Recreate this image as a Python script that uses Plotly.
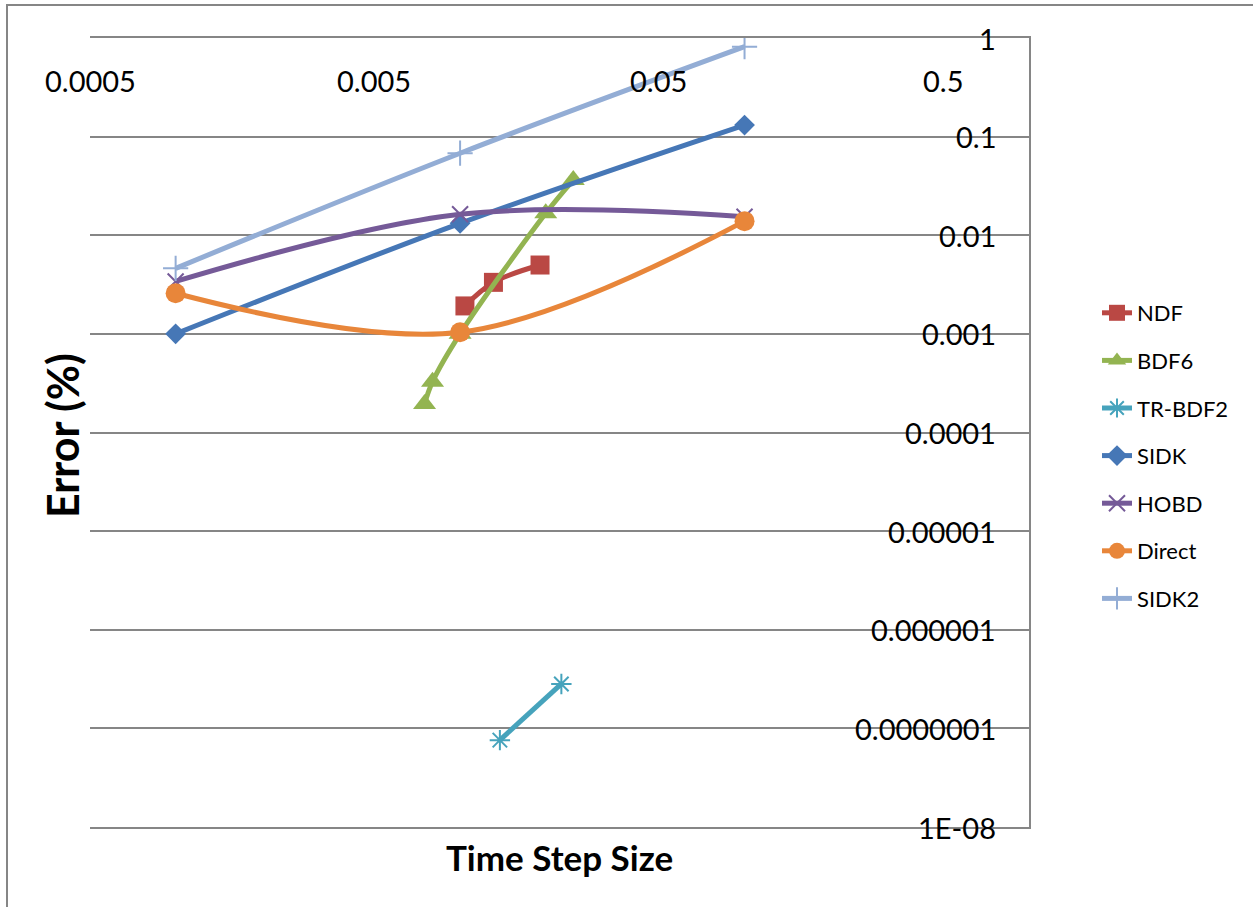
import math
import plotly.graph_objects as go

# Time step sizes and errors (%) for each solver
x_ndf = [0.0104, 0.0131, 0.0191]
y_ndf = [0.00192, 0.00333, 0.00499]

x_bdf6 = [0.0075, 0.008, 0.01, 0.02, 0.025]
y_bdf6 = [0.000195, 0.000327, 0.001, 0.0167, 0.0363]

x_trbdf2 = [0.0138, 0.0227]
y_trbdf2 = [7.6e-8, 2.82e-7]

x_sidk = [0.001, 0.01, 0.1]
y_sidk = [0.001, 0.0132, 0.131]

x_hobd = [0.001, 0.01, 0.1]
y_hobd = [0.0034, 0.0163, 0.0154]

x_direct = [0.001, 0.01, 0.1]
y_direct = [0.00258, 0.00104, 0.0139]

x_sidk2 = [0.001, 0.01, 0.1]
y_sidk2 = [0.00462, 0.0679, 0.816]

x_tickvals = [0.0005, 0.005, 0.05, 0.5]
x_ticktext = ["0.0005", "0.005", "0.05", "0.5"]
y_tickvals = [1, 0.1, 0.01, 0.001, 0.0001, 0.00001, 0.000001, 0.0000001, 0.00000001]
y_ticktext = ["1", "0.1", "0.01", "0.001", "0.0001", "0.00001", "0.000001", "0.0000001", "1E-08"]

FONT = "Lato"
GRID = "#868686"

# plot area in pixels
L, R, T, B = 90, 1029, 38, 827
W, H = R - L, B - T

series = [
    ("NDF", x_ndf, y_ndf, "#BA4844", "square", 19, 0),
    ("BDF6", x_bdf6, y_bdf6, "#93B451", "triangle-up", 20, 0),
    ("TR-BDF2", x_trbdf2, y_trbdf2, "#46A3BC", "asterisk-open", 17, 2),
    ("SIDK", x_sidk, y_sidk, "#4677B6", "diamond", 16, 0),
    ("HOBD", x_hobd, y_hobd, "#755A98", "x-thin-open", 16, 2),
    ("Direct", x_direct, y_direct, "#E8863A", "circle", 20, 0),
    ("SIDK2", x_sidk2, y_sidk2, "#93ADD5", "cross-thin-open", 18, 2),
]

fig = go.Figure()
for name, xs, ys, color, symbol, size, lw in series:
    fig.add_trace(go.Scatter(
        x=xs, y=ys, name=name, legendgroup=name,
        mode="lines+markers",
        line=dict(color=color, width=5, shape="spline", smoothing=1.0),
        marker=dict(symbol=symbol, size=size, color=color,
                    line=dict(width=lw, color=color)),
    ))

annotations = []
# horizontal-axis labels sit just below the top edge
for v, t in zip(x_tickvals, x_ticktext):
    annotations.append(dict(
        text=t, xref="x", yref="paper", x=math.log10(v), y=(B - 80) / H,
        showarrow=False, xanchor="center", yanchor="middle",
        font=dict(family=FONT, size=29, color="black")))
# vertical-axis labels right-aligned inside the right edge
for v, t in zip(y_tickvals, y_ticktext):
    annotations.append(dict(
        text=t, xref="paper", yref="y", x=(998 - L) / W, y=math.log10(v),
        showarrow=False, xanchor="right", yanchor="middle",
        font=dict(family=FONT, size=29, color="black")))
annotations += [
    dict(text="<b>Time Step Size</b>", xref="paper", yref="paper",
         x=0.5, y=(B - 857) / H, showarrow=False,
         xanchor="center", yanchor="middle",
         font=dict(family=FONT, size=35, color="black")),
    dict(text="<b>Error (%)</b>", xref="paper", yref="paper",
         x=(63 - L) / W, y=(B - 436) / H, showarrow=False, textangle=-90,
         xanchor="center", yanchor="middle",
         font=dict(family=FONT, size=43, color="black")),
]

fig.update_layout(
    width=1253, height=907,
    margin=dict(l=L, r=1253 - R, t=T, b=907 - B, autoexpand=False),
    paper_bgcolor="white", plot_bgcolor="white",
    font=dict(family=FONT, color="black"),
    showlegend=True,
    legend=dict(
        xref="container", yref="container",
        x=1097 / 1253, y=1 - 292 / 907, xanchor="left", yanchor="top",
        font=dict(family=FONT, size=22, color="black"),
        bgcolor="rgba(0,0,0,0)", tracegroupgap=16,
    ),
    xaxis=dict(
        type="log", side="top",
        range=[math.log10(0.0005), 0],
        showticklabels=False, ticks="", showgrid=False, zeroline=False,
        showline=True, mirror=True, linecolor=GRID, linewidth=2,
    ),
    yaxis=dict(
        type="log", side="right",
        range=[-8, 0],
        tickvals=y_tickvals, showticklabels=False,
        ticks="", showgrid=True, gridcolor=GRID, gridwidth=2,
        zeroline=False, showline=True, linecolor=GRID, linewidth=2,
    ),
    annotations=annotations,
    shapes=[
        dict(type="rect", xref="paper", yref="paper",
             x0=(7 - L) / W, x1=(1300 - L) / W,
             y0=-(950 - B) / H, y1=1 + (T - 5) / H,
             line=dict(color=GRID, width=2), fillcolor="rgba(0,0,0,0)",
             layer="below"),
    ],
)

fig.write_html("out.html")
